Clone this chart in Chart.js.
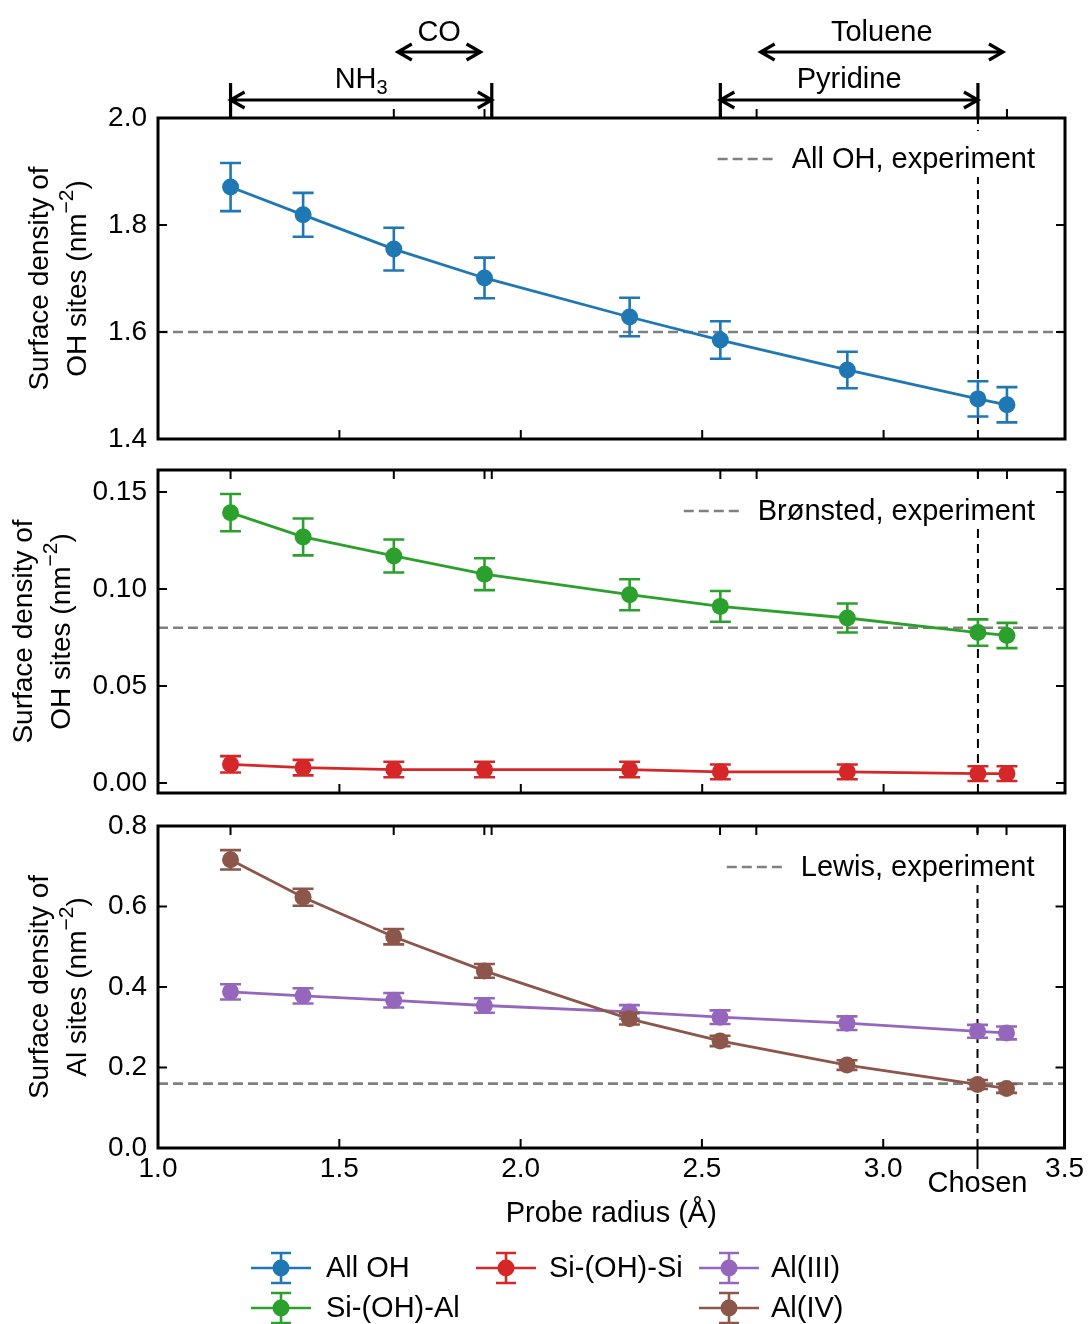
<!DOCTYPE html>
<html>
<head>
<meta charset="utf-8">
<title>Surface density of acid sites vs probe radius</title>
<script src="https://cdn.jsdelivr.net/npm/chart.js@4.4.1/dist/chart.umd.min.js"></script>
<style>
  html, body { margin: 0; padding: 0; background: #fff; }
  #wrap { position: relative; width: 1088px; height: 1324px; }
  #wrap canvas { position: absolute; left: 0; }
</style>
</head>
<body>
<div id="wrap">
  <canvas id="chart-oh" width="1088" height="455" style="top:0px"></canvas>
  <canvas id="chart-bronsted" width="1088" height="350" style="top:455px"></canvas>
  <canvas id="chart-al" width="1088" height="519" style="top:805px"></canvas>
</div>
<script>
// Site densities (nm^-2) computed for each probe radius (Å)
const PROBE_RADIUS  = [1.2, 1.4, 1.65, 1.9, 2.3, 2.55, 2.9, 3.26, 3.34];
const CHOSEN_RADIUS = 3.26;

const ALL_OH     = [1.871, 1.819, 1.755, 1.701, 1.628, 1.585, 1.529, 1.475, 1.464];
const ALL_OH_ERR = [0.045, 0.041, 0.040, 0.038, 0.036, 0.035, 0.034, 0.033, 0.033];

const SI_OH_AL     = [0.1393, 0.1268, 0.1170, 0.1076, 0.0970, 0.0910, 0.0850, 0.0775, 0.0760];
const SI_OH_AL_ERR = [0.0096, 0.0095, 0.0085, 0.0082, 0.0080, 0.0079, 0.0075, 0.0068, 0.0065];
const SI_OH_SI     = [0.0096, 0.0079, 0.0069, 0.0069, 0.0069, 0.0057, 0.0057, 0.0048, 0.0048];
const SI_OH_SI_ERR = [0.0042, 0.0040, 0.0040, 0.0040, 0.0040, 0.0038, 0.0038, 0.0038, 0.0038];

const AL_III     = [0.388, 0.378, 0.367, 0.354, 0.338, 0.325, 0.310, 0.290, 0.286];
const AL_III_ERR = [0.019, 0.019, 0.018, 0.018, 0.017, 0.017, 0.017, 0.016, 0.016];
const AL_IV      = [0.716, 0.623, 0.525, 0.440, 0.321, 0.266, 0.206, 0.158, 0.148];
const AL_IV_ERR  = [0.024, 0.021, 0.019, 0.017, 0.014, 0.013, 0.012, 0.011, 0.011];

// experimental reference densities
const EXP_ALL_OH   = 1.6;
const EXP_BRONSTED = 0.08;
const EXP_LEWIS    = 0.16;

// probe molecule windows shown above the top panel
const PROBE_NAMES = ["NH3", "CO", "Pyridine", "Toluene"];
const PROBE_MIN   = [1.2, 1.65, 2.55, 2.65];
const PROBE_MAX   = [1.92, 1.9, 3.26, 3.34];

const X_TICKS        = [1.0, 1.5, 2.0, 2.5, 3.0, 3.5];
const X_TICK_LABELS  = ["1.0", "1.5", "2.0", "2.5", "3.0", "3.5"];
const Y_TICKS_OH     = [1.4, 1.6, 1.8, 2.0];
const Y_LABELS_OH    = ["1.4", "1.6", "1.8", "2.0"];
const Y_TICKS_BRO    = [0, 0.05, 0.10, 0.15];
const Y_LABELS_BRO   = ["0.00", "0.05", "0.10", "0.15"];
const Y_TICKS_AL     = [0, 0.2, 0.4, 0.6, 0.8];
const Y_LABELS_AL    = ["0.0", "0.2", "0.4", "0.6", "0.8"];

const SERIES_LABELS = ["All OH", "Si-(OH)-Al", "Si-(OH)-Si", "Al(III)", "Al(IV)"];
const SERIES_COLORS = ["#1f77b4", "#2ca02c", "#d62728", "#9467bd", "#8c564b"];

// y titles: segments alternate normal / superscript
const TITLE_OH = [["Surface density of"], ["OH sites (nm", "−2", ")"]];
const TITLE_AL = [["Surface density of"], ["Al sites (nm", "−2", ")"]];

const FONT = "'Liberation Sans', Arial, Helvetica, sans-serif";
Chart.defaults.font.family = FONT;
Chart.defaults.color = "#000";

const PLOT_LEFT = 158;
const PLOT_RIGHT_PAD = 23;
const TICK_LEN = 9;

function pts(ys) {
  return PROBE_RADIUS.map((r, i) => ({ x: r, y: ys[i] }));
}

function seriesDataset(idx, ys, errs, order) {
  const c = SERIES_COLORS[idx];
  return {
    label: SERIES_LABELS[idx],
    data: pts(ys),
    errors: errs,
    borderColor: c,
    backgroundColor: c,
    pointBackgroundColor: c,
    pointBorderWidth: 0,
    pointRadius: 8.5,
    borderWidth: 2.8,
    tension: 0,
    order: order
  };
}

function expLine(v) {
  return {
    label: "experiment",
    data: [{ x: 1.0, y: v }, { x: 3.5, y: v }],
    borderColor: "#808080",
    borderWidth: 2.6,
    borderDash: [10, 5],
    pointRadius: 0,
    order: 10
  };
}

function chosenLine(ymin, ymax) {
  return {
    label: "chosen",
    data: [{ x: CHOSEN_RADIUS, y: ymin }, { x: CHOSEN_RADIUS, y: ymax }],
    borderColor: "#000",
    borderWidth: 2,
    borderDash: [9, 6],
    pointRadius: 0,
    order: 9
  };
}

// vertical error bars with caps, drawn under each series
const errorBars = {
  id: "errorBars",
  beforeDatasetDraw(chart, args) {
    const ds = chart.data.datasets[args.index];
    if (!ds.errors) return;
    const { ctx, scales: { x, y } } = chart;
    const cap = 10.5;
    ctx.save();
    ctx.strokeStyle = ds.borderColor;
    ctx.lineWidth = 2.6;
    ctx.beginPath();
    ds.data.forEach((p, i) => {
      const px = x.getPixelForValue(p.x);
      const top = y.getPixelForValue(p.y + ds.errors[i]);
      const bot = y.getPixelForValue(p.y - ds.errors[i]);
      ctx.moveTo(px, top); ctx.lineTo(px, bot);
      ctx.moveTo(px - cap, top); ctx.lineTo(px + cap, top);
      ctx.moveTo(px - cap, bot); ctx.lineTo(px + cap, bot);
    });
    ctx.stroke();
    ctx.restore();
  }
};

// box frame with inward ticks on every side
const axesFrame = {
  id: "axesFrame",
  afterDatasetsDraw(chart, args, opts) {
    const { ctx, chartArea: a, scales: { x, y } } = chart;
    ctx.save();
    ctx.strokeStyle = "#000";
    ctx.lineWidth = 2;
    ctx.beginPath();
    X_TICKS.forEach(v => {
      if (v <= x.min || v >= x.max) return;
      const px = x.getPixelForValue(v);
      ctx.moveTo(px, a.bottom); ctx.lineTo(px, a.bottom - TICK_LEN);
    });
    const dir = opts.topOutward ? -1 : 1;
    PROBE_MIN.concat(PROBE_MAX).forEach(v => {
      const px = x.getPixelForValue(v);
      ctx.moveTo(px, a.top); ctx.lineTo(px, a.top + dir * TICK_LEN);
    });
    (opts.yTicks || []).forEach(v => {
      if (v <= y.min || v >= y.max) return;
      const py = y.getPixelForValue(v);
      ctx.moveTo(a.left, py); ctx.lineTo(a.left + TICK_LEN, py);
      ctx.moveTo(a.right, py); ctx.lineTo(a.right - TICK_LEN, py);
    });
    ctx.stroke();
    ctx.lineWidth = 3;
    ctx.strokeRect(a.left, a.top, a.right - a.left, a.bottom - a.top);
    ctx.restore();
  }
};

// rotated two-line y title with a raised exponent
const yTitle = {
  id: "yTitle",
  afterDraw(chart, args, opts) {
    const { ctx, chartArea: a } = chart;
    const cy = (a.top + a.bottom) / 2;
    const mainFont = "28px " + FONT, supFont = "21px " + FONT;
    ctx.save();
    ctx.fillStyle = "#000";
    ctx.textBaseline = "middle";
    ctx.textAlign = "left";
    opts.lines.forEach((segs, k) => {
      let total = 0;
      segs.forEach((s, j) => {
        ctx.font = j % 2 ? supFont : mainFont;
        total += ctx.measureText(s).width;
      });
      ctx.save();
      ctx.translate(opts.x[k], cy);
      ctx.rotate(-Math.PI / 2);
      let pos = -total / 2;
      segs.forEach((s, j) => {
        ctx.font = j % 2 ? supFont : mainFont;
        ctx.fillText(s, pos, j % 2 ? -11 : 0);
        pos += ctx.measureText(s).width;
      });
      ctx.restore();
    });
    ctx.restore();
  }
};

// legend entry for the experimental reference line, upper right of the panel
const expLegend = {
  id: "expLegend",
  afterDraw(chart, args, opts) {
    if (!opts.text) return;
    const { ctx, chartArea: a } = chart;
    ctx.save();
    ctx.font = "29px " + FONT;
    const w = ctx.measureText(opts.text).width;
    const tx = a.right - 30 - w;
    const ty = a.top + 42;
    ctx.fillStyle = "#fff";
    ctx.fillRect(tx - 86, a.top + 13, a.right - 14 - (tx - 86), ty + 17 - (a.top + 13));
    ctx.fillStyle = "#000";
    ctx.textBaseline = "middle";
    ctx.textAlign = "left";
    ctx.fillText(opts.text, tx, ty);
    ctx.strokeStyle = "#808080";
    ctx.lineWidth = 2.6;
    ctx.setLineDash([10, 5]);
    ctx.beginPath();
    ctx.moveTo(tx - 74, ty - 1); ctx.lineTo(tx - 15, ty - 1);
    ctx.stroke();
    ctx.restore();
  }
};

// probe molecule windows with double arrows above the top panel
const probeArrows = {
  id: "probeArrows",
  afterDraw(chart) {
    const { ctx, chartArea: a, scales: { x } } = chart;
    const HL = 14, HW = 8;
    ctx.save();
    ctx.strokeStyle = "#000";
    ctx.fillStyle = "#000";
    ctx.lineWidth = 3.2;
    ctx.lineJoin = "miter";
    PROBE_NAMES.forEach((name, i) => {
      const upper = name === "CO" || name === "Toluene";
      const y = upper ? 52 : 100;
      const shrink = upper ? 4 : 0;
      const x0 = x.getPixelForValue(PROBE_MIN[i]) + shrink;
      const x1 = x.getPixelForValue(PROBE_MAX[i]) - shrink;
      ctx.beginPath();
      ctx.moveTo(x0, y); ctx.lineTo(x1, y);
      ctx.moveTo(x0 + HL, y - HW); ctx.lineTo(x0, y); ctx.lineTo(x0 + HL, y + HW);
      ctx.moveTo(x1 - HL, y - HW); ctx.lineTo(x1, y); ctx.lineTo(x1 - HL, y + HW);
      if (!upper) {
        ctx.moveTo(x0, 83); ctx.lineTo(x0, a.top);
        ctx.moveTo(x1, 83); ctx.lineTo(x1, a.top);
      }
      ctx.stroke();

      const cx = (x0 + x1) / 2;
      const base = upper ? 41 : 88;
      ctx.textBaseline = "alphabetic";
      if (name === "NH3") {
        ctx.font = "29px " + FONT;
        const wMain = ctx.measureText("NH").width;
        ctx.font = "20px " + FONT;
        const wSub = ctx.measureText("3").width;
        const left = cx - (wMain + wSub) / 2;
        ctx.textAlign = "left";
        ctx.font = "29px " + FONT;
        ctx.fillText("NH", left, base);
        ctx.font = "20px " + FONT;
        ctx.fillText("3", left + wMain, base + 6);
      } else {
        ctx.font = "29px " + FONT;
        ctx.textAlign = "center";
        ctx.fillText(name, cx, base);
      }
    });
    ctx.restore();
  }
};

// "Chosen" tick below the bottom panel and the shared series legend
const bottomDecor = {
  id: "bottomDecor",
  afterDraw(chart) {
    const { ctx, chartArea: a, scales: { x } } = chart;
    ctx.save();
    const cx = x.getPixelForValue(CHOSEN_RADIUS);
    ctx.strokeStyle = "#000";
    ctx.lineWidth = 2;
    ctx.beginPath();
    ctx.moveTo(cx, a.bottom); ctx.lineTo(cx, a.bottom + 21);
    ctx.stroke();
    ctx.font = "29px " + FONT;
    ctx.fillStyle = "#000";
    ctx.textAlign = "center";
    ctx.textBaseline = "middle";
    ctx.fillText("Chosen", cx, a.bottom + 36);

    // legend: three columns, filled column by column
    const colHandle = [281, 506, 729];
    const colText   = [326, 549, 771];
    const rowY      = [463, 503];
    const slots = [[0, 0], [0, 1], [1, 0], [2, 0], [2, 1]];
    SERIES_LABELS.forEach((label, i) => {
      const [c, r] = slots[i];
      const hx = colHandle[c], hy = rowY[r];
      const color = SERIES_COLORS[i];
      ctx.strokeStyle = color;
      ctx.fillStyle = color;
      ctx.lineWidth = 2.6;
      ctx.beginPath();
      ctx.moveTo(hx - 30, hy); ctx.lineTo(hx + 30, hy);
      ctx.moveTo(hx, hy - 15); ctx.lineTo(hx, hy + 15);
      ctx.moveTo(hx - 10, hy - 15); ctx.lineTo(hx + 10, hy - 15);
      ctx.moveTo(hx - 10, hy + 15); ctx.lineTo(hx + 10, hy + 15);
      ctx.stroke();
      ctx.beginPath();
      ctx.arc(hx, hy, 8.5, 0, Math.PI * 2);
      ctx.fill();
      ctx.fillStyle = "#000";
      ctx.textAlign = "left";
      ctx.textBaseline = "middle";
      ctx.fillText(label, colText[c], hy + 1);
    });
    ctx.restore();
  }
};

function xScale(showLabels, height) {
  return {
    type: "linear",
    min: 1.0,
    max: 3.5,
    afterBuildTicks: s => { s.ticks = X_TICKS.map(v => ({ value: v })); },
    afterFit: s => { s.height = height; },
    grid: { display: false, drawTicks: false },
    border: { display: false },
    ticks: {
      display: showLabels,
      padding: 4,
      autoSkip: false,
      maxRotation: 0,
      font: { size: 28 },
      callback: (v, i) => X_TICK_LABELS[i]
    },
    title: {
      display: showLabels,
      text: "Probe radius (Å)",
      font: { size: 29 },
      padding: { top: 0, bottom: 2 }
    }
  };
}

function yScale(min, max, ticks, labels) {
  return {
    min: min,
    max: max,
    afterBuildTicks: s => { s.ticks = ticks.map(v => ({ value: v })); },
    afterFit: s => {
      s.width = PLOT_LEFT;
      s.paddingTop = 0;
      s.paddingBottom = 0;
    },
    grid: { display: false, drawTicks: false },
    border: { display: false },
    ticks: {
      padding: 11,
      autoSkip: false,
      font: { size: 28 },
      callback: (v, i) => labels[i]
    }
  };
}

function baseOptions(pad, scales, plugins) {
  return {
    responsive: false,
    animation: false,
    events: [],
    layout: { padding: pad },
    scales: scales,
    plugins: Object.assign({
      legend: { display: false },
      tooltip: { enabled: false }
    }, plugins)
  };
}

// Top panel: all OH groups
new Chart(document.getElementById("chart-oh"), {
  type: "line",
  data: {
    datasets: [
      seriesDataset(0, ALL_OH, ALL_OH_ERR, 0),
      expLine(EXP_ALL_OH),
      chosenLine(1.4, 2.0)
    ]
  },
  options: baseOptions(
    { top: 118, right: PLOT_RIGHT_PAD, bottom: 0, left: 0 },
    {
      x: xScale(false, 16),
      y: yScale(1.4, 2.0, Y_TICKS_OH, Y_LABELS_OH)
    },
    {
      axesFrame: { yTicks: Y_TICKS_OH, topOutward: true },
      expLegend: { text: "All OH, experiment" },
      yTitle: { lines: TITLE_OH, x: [40, 78] }
    }
  ),
  plugins: [errorBars, axesFrame, expLegend, yTitle, probeArrows]
});

// Middle panel: Brønsted sites split by environment
new Chart(document.getElementById("chart-bronsted"), {
  type: "line",
  data: {
    datasets: [
      seriesDataset(1, SI_OH_AL, SI_OH_AL_ERR, 0),
      seriesDataset(2, SI_OH_SI, SI_OH_SI_ERR, 1),
      expLine(EXP_BRONSTED),
      chosenLine(-0.0052, 0.1613)
    ]
  },
  options: baseOptions(
    { top: 15, right: PLOT_RIGHT_PAD, bottom: 0, left: 0 },
    {
      x: xScale(false, 12),
      y: yScale(-0.0052, 0.1613, Y_TICKS_BRO, Y_LABELS_BRO)
    },
    {
      axesFrame: { yTicks: Y_TICKS_BRO, topOutward: false },
      expLegend: { text: "Brønsted, experiment" },
      yTitle: { lines: TITLE_OH, x: [24, 62] }
    }
  ),
  plugins: [errorBars, axesFrame, expLegend, yTitle]
});

// Bottom panel: Lewis (Al) sites
new Chart(document.getElementById("chart-al"), {
  type: "line",
  data: {
    datasets: [
      seriesDataset(4, AL_IV, AL_IV_ERR, 0),
      seriesDataset(3, AL_III, AL_III_ERR, 1),
      expLine(EXP_LEWIS),
      chosenLine(0, 0.8)
    ]
  },
  options: baseOptions(
    { top: 21, right: PLOT_RIGHT_PAD, bottom: 91, left: 0 },
    {
      x: xScale(true, 85),
      y: yScale(0, 0.8, Y_TICKS_AL, Y_LABELS_AL)
    },
    {
      axesFrame: { yTicks: Y_TICKS_AL, topOutward: false },
      expLegend: { text: "Lewis, experiment" },
      yTitle: { lines: TITLE_AL, x: [40, 78] }
    }
  ),
  plugins: [errorBars, axesFrame, expLegend, yTitle, bottomDecor]
});
</script>
</body>
</html>
